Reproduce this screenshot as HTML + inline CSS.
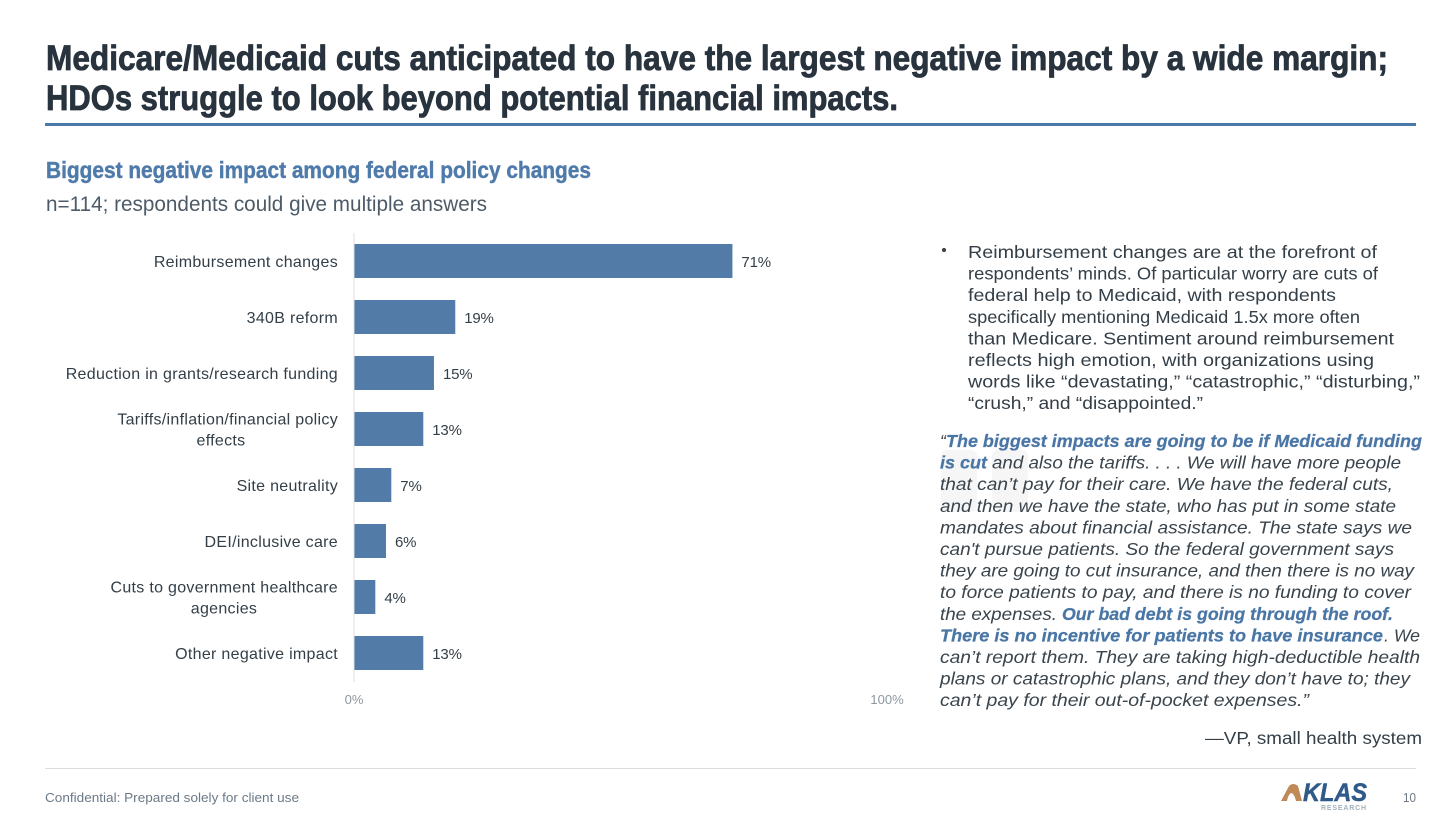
<!DOCTYPE html>
<html lang="en">
<head>
<meta charset="utf-8">
<title>Federal policy impact</title>
<style>
html,body{margin:0;padding:0;background:#fff;width:1456px;height:818px;overflow:hidden}
svg{display:block;font-family:"Liberation Sans",sans-serif}
.t{font-size:35px;font-weight:700;fill:#28333e;stroke:#28333e;stroke-width:.8px}
.b{font-size:17.5px;fill:#333e47}
.q{font-size:17.5px;font-style:italic;fill:#3a444c}
.k{font-size:17.5px;font-style:italic;font-weight:700;fill:#4a76a6;stroke:#4a76a6;stroke-width:.25px}
</style>
</head>
<body>
<svg id="slide" width="1456" height="818" viewBox="0 0 1456 818" xmlns="http://www.w3.org/2000/svg">
<rect width="1456" height="818" fill="#fff"/>
<g>
<text class="t" x="46" y="70" textLength="1342" lengthAdjust="spacingAndGlyphs">Medicare/Medicaid cuts anticipated to have the largest negative impact by a wide margin;</text>
<text class="t" x="46" y="110" textLength="852" lengthAdjust="spacingAndGlyphs">HDOs struggle to look beyond potential financial impacts.</text>
</g>
<rect x="45" y="123" width="1371" height="3" fill="#4a78a8"/>
<text x="46" y="178" font-size="23" font-weight="700" fill="#4f7bab" stroke="#4f7bab" stroke-width="0.45" textLength="545" lengthAdjust="spacingAndGlyphs">Biggest negative impact among federal policy changes</text>
<text x="46" y="211" font-size="21" fill="#4d5b68" textLength="441" lengthAdjust="spacingAndGlyphs">n=114; respondents could give multiple answers</text>

<g id="chart"></g>

<g>
<circle cx="944" cy="250" r="2" fill="#333e47"/>
<text class="b" x="968" y="258" textLength="409" lengthAdjust="spacingAndGlyphs">Reimbursement changes are at the forefront of</text>
<text class="b" x="968" y="279.6" textLength="410" lengthAdjust="spacingAndGlyphs">respondents’ minds. Of particular worry are cuts of</text>
<text class="b" x="968" y="301.2" textLength="368" lengthAdjust="spacingAndGlyphs">federal help to Medicaid, with respondents</text>
<text class="b" x="968" y="322.8" textLength="392" lengthAdjust="spacingAndGlyphs">specifically mentioning Medicaid 1.5x more often</text>
<text class="b" x="968" y="344.4" textLength="426" lengthAdjust="spacingAndGlyphs">than Medicare. Sentiment around reimbursement</text>
<text class="b" x="968" y="366" textLength="406" lengthAdjust="spacingAndGlyphs">reflects high emotion, with organizations using</text>
<text class="b" x="968" y="387.6" textLength="452" lengthAdjust="spacingAndGlyphs">words like “devastating,” “catastrophic,” “disturbing,”</text>
<text class="b" x="968" y="409.2" textLength="235" lengthAdjust="spacingAndGlyphs">“crush,” and “disappointed.”</text>
</g>

<g fill="#f6f6f6">
<rect x="941" y="450" width="36" height="62" rx="6"/>
<rect x="992" y="450" width="36" height="62" rx="6"/>
</g>

<g>
<text class="q" x="940" y="447">“</text>
<text class="k" x="946" y="447" textLength="476" lengthAdjust="spacingAndGlyphs">The biggest impacts are going to be if Medicaid funding</text>
<text class="k" x="940" y="468.6" textLength="47" lengthAdjust="spacingAndGlyphs">is cut</text>
<text class="q" x="992" y="468.6" textLength="409" lengthAdjust="spacingAndGlyphs">and also the tariffs. . . . We will have more people</text>
<text class="q" x="940" y="490.2" textLength="453" lengthAdjust="spacingAndGlyphs">that can’t pay for their care. We have the federal cuts,</text>
<text class="q" x="940" y="511.8" textLength="456" lengthAdjust="spacingAndGlyphs">and then we have the state, who has put in some state</text>
<text class="q" x="940" y="533.4" textLength="472" lengthAdjust="spacingAndGlyphs">mandates about financial assistance. The state says we</text>
<text class="q" x="940" y="555" textLength="454" lengthAdjust="spacingAndGlyphs">can't pursue patients. So the federal government says</text>
<text class="q" x="940" y="576.6" textLength="474" lengthAdjust="spacingAndGlyphs">they are going to cut insurance, and then there is no way</text>
<text class="q" x="940" y="598.2" textLength="471" lengthAdjust="spacingAndGlyphs">to force patients to pay, and there is no funding to cover</text>
<text class="q" x="940" y="619.8" textLength="117" lengthAdjust="spacingAndGlyphs">the expenses.</text>
<text class="k" x="1062" y="619.8" textLength="331" lengthAdjust="spacingAndGlyphs">Our bad debt is going through the roof.</text>
<text class="k" x="940" y="641.4" textLength="443" lengthAdjust="spacingAndGlyphs">There is no incentive for patients to have insurance</text>
<text class="q" x="1384" y="641.4" textLength="36" lengthAdjust="spacingAndGlyphs">. We</text>
<text class="q" x="940" y="663" textLength="480" lengthAdjust="spacingAndGlyphs">can’t report them. They are taking high-deductible health</text>
<text class="q" x="940" y="684.6" textLength="470" lengthAdjust="spacingAndGlyphs">plans or catastrophic plans, and they don’t have to; they</text>
<text class="q" x="940" y="706.2" textLength="369" lengthAdjust="spacingAndGlyphs">can’t pay for their out-of-pocket expenses.”</text>
</g>
<text class="b" x="1205" y="744" textLength="217" lengthAdjust="spacingAndGlyphs">—VP, small health system</text>

<rect x="45" y="768" width="1371" height="1" fill="#d9dde0"/>
<text x="45" y="802" font-size="13" fill="#6b7986" textLength="254" lengthAdjust="spacingAndGlyphs">Confidential: Prepared solely for client use</text>
<g>
<path d="M1281 801 L1289 786 Q1293 782 1298 786 L1302 801 L1296 801 Q1294 793 1291 793 Q1288 795 1287 801 Z" fill="#c08a58"/>
<text x="1303" y="801" font-size="25" font-weight="700" font-style="italic" fill="#2f5a8a" stroke="#2f5a8a" stroke-width="0.5" textLength="64" lengthAdjust="spacingAndGlyphs">KLAS</text>
<text x="1321" y="810" font-size="7" font-weight="700" fill="#a3b0bd" textLength="45" lengthAdjust="spacing">RESEARCH</text>
</g>
<text x="1403" y="802" font-size="13" fill="#6b7986" textLength="13" lengthAdjust="spacingAndGlyphs">10</text>
</svg>

<script>
const categories = ["Reimbursement changes", "340B reform", "Reduction in grants/research funding", "Tariffs/inflation/financial policy\neffects", "Site neutrality", "DEI/inclusive care", "Cuts to government healthcare\nagencies", "Other negative impact"];
const seriesValues = [71, 19, 15, 13, 7, 6, 4, 13];
const tickValues = [0, 100];

const NS = "http://www.w3.org/2000/svg";
const chart = document.getElementById("chart");
function xScale(v) { return 354 + v * 5.33; }
function yBand(i) { return 261 + i * 56; }
function svgEl(tag) { return document.createElementNS(NS, tag); }

const axisLine = svgEl("line");


axisLine.setAttribute("x1", xScale(0));
axisLine.setAttribute("x2", xScale(0));
axisLine.setAttribute("y1", 233);
axisLine.setAttribute("y2", 682);
axisLine.setAttribute("stroke", "#dcdfe2");
axisLine.setAttribute("stroke-width", "1");
chart.appendChild(axisLine);

categories.forEach(function (cat, i) {
  const cy = yBand(i);
  const bar = svgEl("rect");
  
  
  bar.setAttribute("x", xScale(0) + 0.5);
  bar.setAttribute("y", cy - 17);
  bar.setAttribute("width", xScale(seriesValues[i]) - xScale(0) - 0.5);
  bar.setAttribute("height", 34);
  bar.setAttribute("fill", "#527ba8");
  chart.appendChild(bar);

  const value = svgEl("text");
  
  
  value.setAttribute("x", xScale(seriesValues[i]) + 9);
  value.setAttribute("y", cy + 6);
  value.setAttribute("font-size", "15");
  value.setAttribute("letter-spacing", "-0.2");
  value.setAttribute("fill", "#333e47");
  value.textContent = seriesValues[i] + "%";
  chart.appendChild(value);

  const lines = cat.split("\n");
  lines.forEach(function (line, j) {
    const label = svgEl("text");
    
    
    const two = lines.length > 1;
    label.setAttribute("x", two && j === 1 ? 224 - (i === 3 ? 3 : 0) : 338);
    label.setAttribute("y", two ? cy + 6 - 10.5 + j * 21 : cy + 6);
    label.setAttribute("text-anchor", two && j === 1 ? "middle" : "end");
    label.setAttribute("font-size", "16");
    label.setAttribute("letter-spacing", "0.3");
    label.setAttribute("fill", "#333e47");
    label.textContent = line;
    chart.appendChild(label);
  });
});

tickValues.forEach(function (t) {
  const tick = svgEl("text");
  
  
  tick.setAttribute("x", xScale(t));
  tick.setAttribute("y", 704);
  tick.setAttribute("text-anchor", "middle");
  tick.setAttribute("font-size", "13");
  tick.setAttribute("fill", "#8d98a1");
  tick.textContent = t + "%";
  chart.appendChild(tick);
});
</script>
</body>
</html>
